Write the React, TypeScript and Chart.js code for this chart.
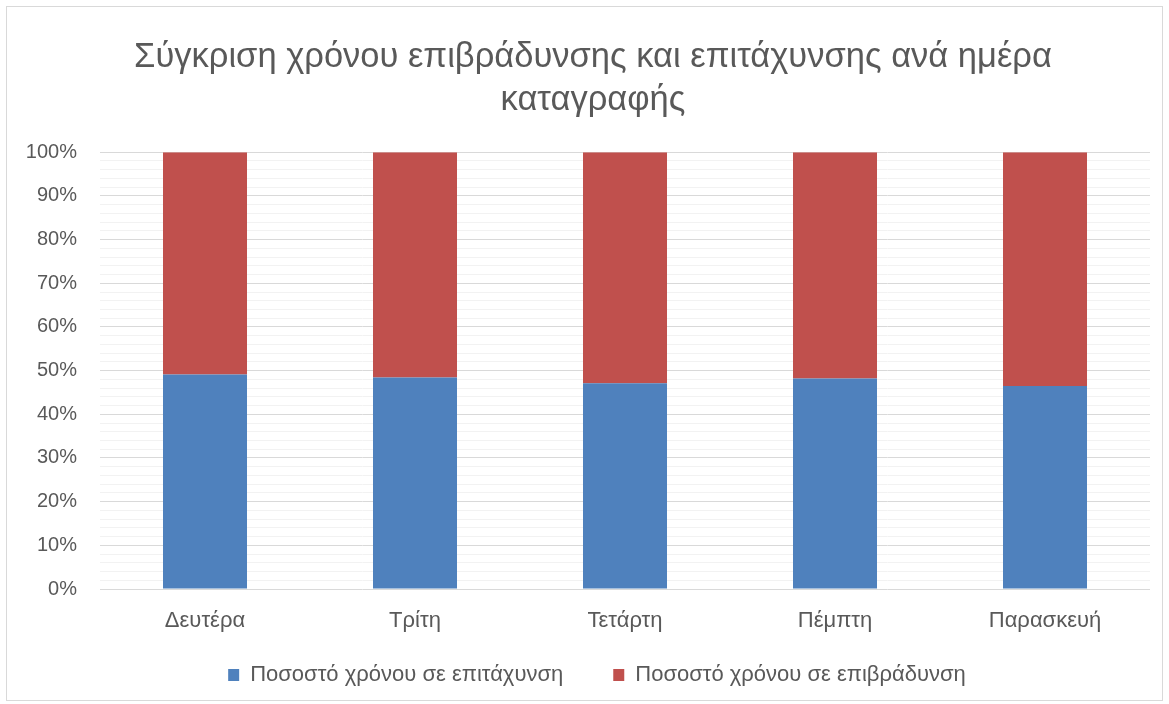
import React, { useEffect, useRef } from "react";
import { Chart, registerables } from "chart.js";

Chart.register(...registerables);

const TITLE_LINES = ["Σύγκριση χρόνου επιβράδυνσης και επιτάχυνσης ανά ημέρα", "καταγραφής"];
const CATEGORIES = ["Δευτέρα", "Τρίτη", "Τετάρτη", "Πέμπτη", "Παρασκευή"];
const SERIES_NAMES = ["Ποσοστό χρόνου σε επιτάχυνση", "Ποσοστό χρόνου σε επιβράδυνση"];
const ACCEL = [49.1, 48.4, 47.1, 48.2, 46.5];
const DECEL = [50.9, 51.6, 52.9, 51.8, 53.5];
const COLORS = ["#4F81BD", "#C0504D"];

const FONT = "'Liberation Sans', Arial, sans-serif";
const TEXT = "#595959";
const LEGEND_H = 55;
const LEGEND_TOP = 614;
const TITLE_SHIFT = 18;
const LEGEND_SHIFT = 22;

const layoutTweak = {
  id: "layoutTweak",
  beforeLayout(chart: any) {
    const lg = chart.legend;
    if (lg && !lg._patched) {
      const orig = lg.fit.bind(lg);
      lg.fit = function () {
        orig();
        this.height = LEGEND_H;
      };
      lg._patched = true;
    }
  },
  afterLayout(chart: any) {
    const lg = chart.legend;
    if (lg) {
      lg.top = LEGEND_TOP;
      lg.bottom = 704;
      lg.height = lg.bottom - lg.top;
      lg.left += LEGEND_SHIFT;
      lg.right += LEGEND_SHIFT;
    }
    const x = chart.scales.x;
    if (x) {
      x.bottom = 660;
      x.height = x.bottom - x.top;
    }
    const t = chart.titleBlock;
    if (t) {
      t.left += TITLE_SHIFT;
      t.right += TITLE_SHIFT;
    }
  },
};

export default function App() {
  const ref = useRef<HTMLCanvasElement | null>(null);
  useEffect(() => {
    if (!ref.current) return;
    const chart = new Chart(ref.current, {
      type: "bar",
      data: {
        labels: CATEGORIES,
        datasets: [
          { label: SERIES_NAMES[0], data: ACCEL, backgroundColor: COLORS[0], borderWidth: 0 },
          { label: SERIES_NAMES[1], data: DECEL, backgroundColor: COLORS[1], borderWidth: 0 },
        ],
      },
      plugins: [layoutTweak],
      options: {
        animation: false,
        responsive: false,
        maintainAspectRatio: false,
        layout: { padding: { left: 0, right: 19, top: 36, bottom: 0 } },
        datasets: { bar: { categoryPercentage: 1, barPercentage: 0.4 } },
        plugins: {
          title: {
            display: true,
            text: TITLE_LINES,
            color: TEXT,
            font: { family: FONT, size: 34.5, weight: "normal", lineHeight: 1.25 },
            padding: { top: 0, bottom: 30 },
          },
          legend: {
            position: "bottom",
            labels: {
              color: TEXT,
              font: { family: FONT, size: 22 },
              boxWidth: 11,
              boxHeight: 12,
              padding: 50,
            },
          },
          tooltip: { enabled: false },
        },
        scales: {
          x: {
            stacked: true,
            grid: { display: false },
            border: { display: false },
            ticks: { color: TEXT, font: { family: FONT, size: 22 }, padding: 11 },
            afterFit: (s: any) => { s.height = 60; },
          },
          y: {
            stacked: true,
            min: 0,
            max: 100,
            border: { display: false },
            grid: {
              drawTicks: false,
              color: (ctx: any) => (ctx.tick && Math.round(ctx.tick.value) % 10 === 0 ? "#D9D9D9" : "#F2F2F2"),
              lineWidth: 1,
            },
            ticks: {
              stepSize: 2,
              autoSkip: false,
              color: TEXT,
              font: { family: FONT, size: 20 },
              padding: 23,
              callback: (v: any) => (Math.round(Number(v)) % 10 === 0 ? `${v}%` : ""),
            },
            afterFit: (s: any) => { s.width = 100; },
          },
        },
      },
    });
    return () => chart.destroy();
  }, []);
  return (
    <div style={{ position: "fixed", left: 0, top: 0, width: 1169, height: 704, background: "#fff" }}>
      <canvas ref={ref} width={1169} height={704} style={{ position: "absolute", left: 0, top: 0 }} />
      <div style={{ position: "absolute", left: 6, top: 6, width: 1155, height: 693, border: "1px solid #D9D9D9", pointerEvents: "none" }} />
    </div>
  );
}
